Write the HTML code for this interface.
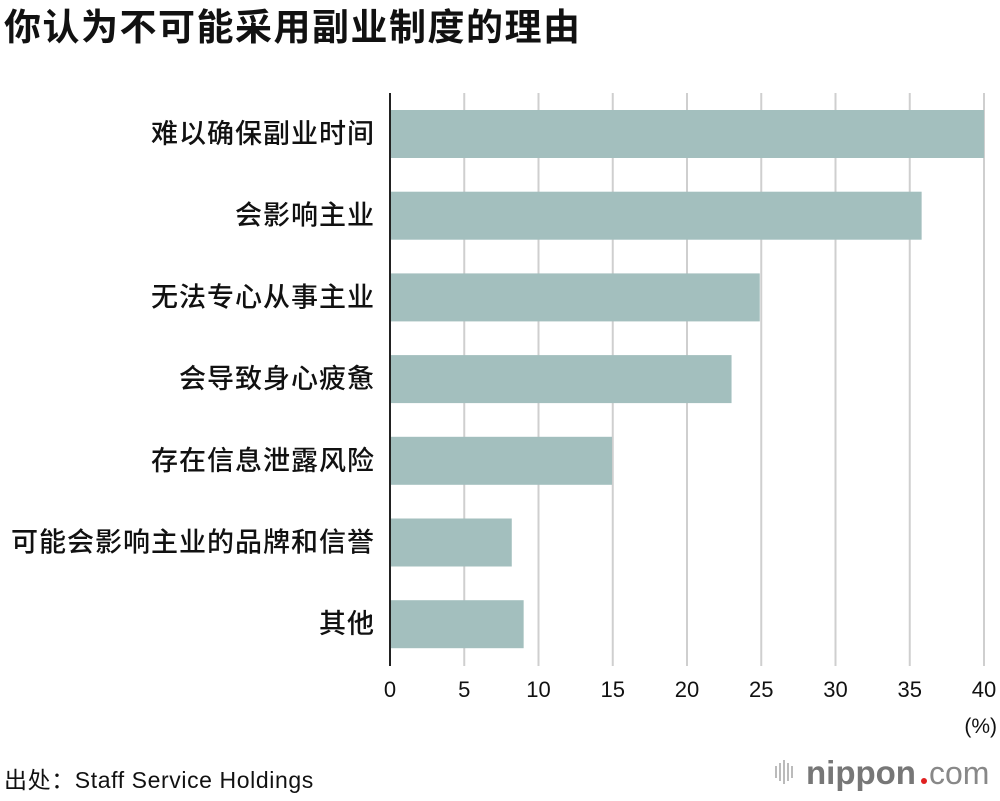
<!DOCTYPE html>
<html><head><meta charset="utf-8">
<style>
html,body{margin:0;padding:0;background:#fff;}
body{width:1000px;height:796px;overflow:hidden;font-family:"Liberation Sans","Noto Sans CJK SC",sans-serif;}
</style></head>
<body>
<svg id="chart" width="1000" height="796" xmlns="http://www.w3.org/2000/svg" font-family="'Liberation Sans','Noto Sans CJK SC',sans-serif">
<text x="4" y="40" font-size="37" font-weight="bold" letter-spacing="1.5" fill="#111">你认为不可能采用副业制度的理由</text>
<g id="grid"></g><g id="bars"></g><g id="labels"></g><g id="ticks"></g>
<line x1="390" y1="93" x2="390" y2="666" stroke="#222" stroke-width="2"/>
<text x="997" y="733" font-size="21" text-anchor="end" fill="#111">(%)</text>
<text x="4" y="788" font-size="23" letter-spacing="0.6" fill="#111">出处：Staff Service Holdings</text>
<g>
<g fill="#bbb">
<rect x="775" y="766" width="2" height="12"/><rect x="779" y="763" width="2" height="18"/><rect x="783" y="760" width="2" height="24"/><rect x="787" y="763" width="2" height="18"/><rect x="791" y="766" width="2" height="12"/></g>
<text x="806" y="784" font-size="33" font-weight="bold" fill="#777">nippon</text>
<circle cx="924" cy="781" r="3" fill="#e02020"/>
<text x="929" y="784" font-size="32" fill="#888">com</text>
</g>
</svg>
<script>
const categories=["难以确保副业时间","会影响主业","无法专心从事主业","会导致身心疲惫","存在信息泄露风险","可能会影响主业的品牌和信誉","其他"];
const values=[40,35.8,24.9,23.0,14.95,8.2,9.0];
const tickValues=[0,5,10,15,20,25,30,35,40];
const NS="http://www.w3.org/2000/svg";
const x0=390,x1=984,xMax=40;
function xs(v){return x0+(x1-x0)*v/xMax;}
const top0=110,step=81.7,bh=48;
function ys(i){return top0+i*step;}
function mk(t,a,p){const e=document.createElementNS(NS,t);for(const k in a)e.setAttribute(k,a[k]);p.appendChild(e);return e;}
const grid=document.getElementById('grid'),bars=document.getElementById('bars'),labels=document.getElementById('labels'),ticks=document.getElementById('ticks');
tickValues.forEach(v=>{
  if(v>0){const l=mk('line',{x1:xs(v),x2:xs(v),y1:93,y2:666,stroke:'#cfcfcf','stroke-width':2},grid);
  
  }
  const t=mk('text',{x:xs(v),y:697,'font-size':22,'text-anchor':'middle',fill:'#111'},ticks);
  t.textContent=v;
  
  
});
categories.forEach((c,i)=>{
  const r=mk('rect',{x:x0,y:ys(i),width:xs(values[i])-x0,height:bh,fill:'#a3bfbe'},bars);
  
  
  const t=mk('text',{x:375,y:ys(i)+bh/2+9,'font-size':27,'letter-spacing':1,'font-weight':500,'text-anchor':'end',fill:'#111'},labels);
  t.textContent=c;
  
  
});
</script>
</body></html>
